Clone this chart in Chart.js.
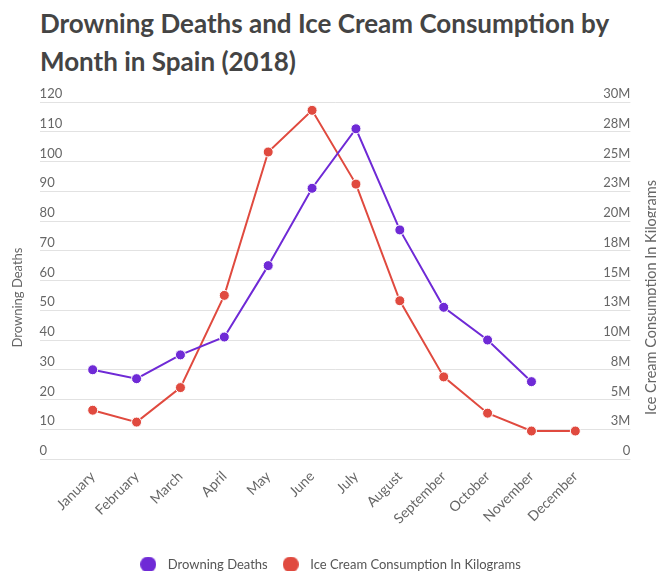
<!DOCTYPE html>
<html>
<head>
<meta charset="utf-8">
<script src="https://cdn.jsdelivr.net/npm/chart.js@4"></script>
<style>
  html, body { margin: 0; padding: 0; background: #fff; overflow: hidden; }
  h1 {
    margin: 0; padding: 4px 0 0 40px; height: 76px;
    font: bold 26px/38px Lato, "Open Sans", sans-serif;
    color: #444;
  }
  #wrap { width: 656px; height: 491px; }
</style>
</head>
<body>
<h1>Drowning Deaths and Ice Cream Consumption by<br>Month in Spain (2018)</h1>
<div id="wrap"><canvas id="chart"></canvas></div>
<script>
const months = ["January", "February", "March", "April", "May", "June",
    "July", "August", "September", "October", "November", "December"];
// drowning deaths per month (no December value)
const drowningDeaths = [30, 27, 35, 41, 65, 91, 111, 77, 51, 40, 26, null];
// ice cream consumption in kg
const iceCreamKg = [4.1e6, 3.1e6, 6.0e6, 13.75e6, 25.8e6, 29.3e6, 23.1e6,
    13.3e6, 6.9e6, 3.85e6, 2.35e6, 2.35e6];
const deathsMax = 120, deathsStep = 10;
const kgMax = 30e6, kgStep = 2.5e6;

const purple = '#6f2ad6';
const red = '#e04a3f';
const grey = '#666';
const fontFamily = 'Lato, "Open Sans", sans-serif';

Chart.defaults.font.family = fontFamily;
Chart.defaults.color = grey;

function points(values) {
    return values.map((v, i) => ({x: i, y: v}));
}

// little round marker for the legend
function dot(color) {
    const c = document.createElement('canvas');
    c.width = 16; c.height = 16;
    const g = c.getContext('2d');
    g.fillStyle = color;
    g.beginPath();
    g.arc(8, 8, 8, 0, Math.PI * 2);
    g.fill();
    return c;
}

// both axis titles read bottom to top, a bit below the middle of the plot
const axisTitles = {
    id: 'axisTitles',
    afterDraw(c) {
        const ctx = c.ctx;
        const y = (c.chartArea.top + c.chartArea.bottom) / 2 + 17;
        const draw = (text, x, size) => {
            ctx.save();
            ctx.translate(x, y);
            ctx.rotate(-Math.PI / 2);
            ctx.font = size + 'px ' + fontFamily;
            ctx.fillStyle = grey;
            ctx.textAlign = 'center';
            ctx.textBaseline = 'middle';
            ctx.fillText(text, 0, 0);
            ctx.restore();
        };
        draw(c.options.scales.y.title.text, c.scales.y.left + 18, 13);
        draw(c.options.scales.y1.title.text, c.scales.y1.right - 5, 14.5);
    }
};

const chartCanvas = document.getElementById('chart');
let chart = new Chart(chartCanvas, {
    type: 'line',
    data: {
        datasets: [{
            label: 'Drowning Deaths',
            data: points(drowningDeaths),
            yAxisID: 'y',
            borderColor: purple,
            backgroundColor: purple,
            borderWidth: 2,
            pointRadius: 5,
            pointBorderColor: '#fff',
            pointBorderWidth: 1,
            spanGaps: false
        }, {
            label: 'Ice Cream Consumption In Kilograms',
            data: points(iceCreamKg),
            yAxisID: 'y1',
            borderColor: red,
            backgroundColor: red,
            borderWidth: 2,
            pointRadius: 5,
            pointBorderColor: '#fff',
            pointBorderWidth: 1
        }]
    },
    plugins: [axisTitles],
    options: {
        responsive: true,
        maintainAspectRatio: false,
        animation: false,
        layout: { padding: { left: 0, right: 0, top: 22, bottom: -10 } },
        scales: {
            x: {
                type: 'linear',
                min: -1.21,
                max: 12.255,
                grid: { display: false, drawTicks: false },
                border: { display: false },
                afterBuildTicks: s => {
                    s.ticks = months.map((m, i) => ({value: i}));
                },
                afterFit: s => { s.height = 89; },
                ticks: {
                    autoSkip: false,
                    minRotation: 45,
                    maxRotation: 45,
                    padding: 9,
                    font: { size: 14 },
                    callback: v => months[v]
                }
            },
            y: {
                position: 'left',
                min: 0,
                max: deathsMax,
                grid: { color: '#e2e2e2', drawTicks: false },
                border: { display: false },
                ticks: {
                    stepSize: deathsStep,
                    mirror: true,
                    padding: 0,
                    labelOffset: -8,
                    font: { size: 13 }
                },
                title: {
                    display: true,
                    text: 'Drowning Deaths',
                    color: 'rgba(0,0,0,0)',
                    font: { size: 13 },
                    padding: { top: 10, bottom: 14 }
                }
            },
            y1: {
                position: 'right',
                min: 0,
                max: kgMax,
                grid: { drawOnChartArea: false, drawTicks: false },
                border: { display: false },
                ticks: {
                    stepSize: kgStep,
                    mirror: true,
                    padding: 0,
                    labelOffset: -8,
                    font: { size: 13 },
                    callback: v => v === 0 ? '0' : Math.round(v / 1e6) + 'M'
                },
                title: {
                    display: true,
                    text: 'Ice Cream Consumption In Kilograms',
                    color: 'rgba(0,0,0,0)',
                    font: { size: 13 },
                    padding: { top: 0, bottom: 10 }
                }
            }
        },
        plugins: {
            legend: {
                position: 'bottom',
                labels: {
                    usePointStyle: true,
                    pointStyleWidth: 26,
                    boxHeight: 16,
                    padding: 10,
                    color: '#555',
                    font: { size: 13 },
                    generateLabels: c => Chart.defaults.plugins.legend.labels.generateLabels(c)
                        .map(item => ({...item, pointStyle: dot(item.fillStyle)}))
                }
            },
            tooltip: { enabled: false }
        }
    }
});
</script>
</body>
</html>
